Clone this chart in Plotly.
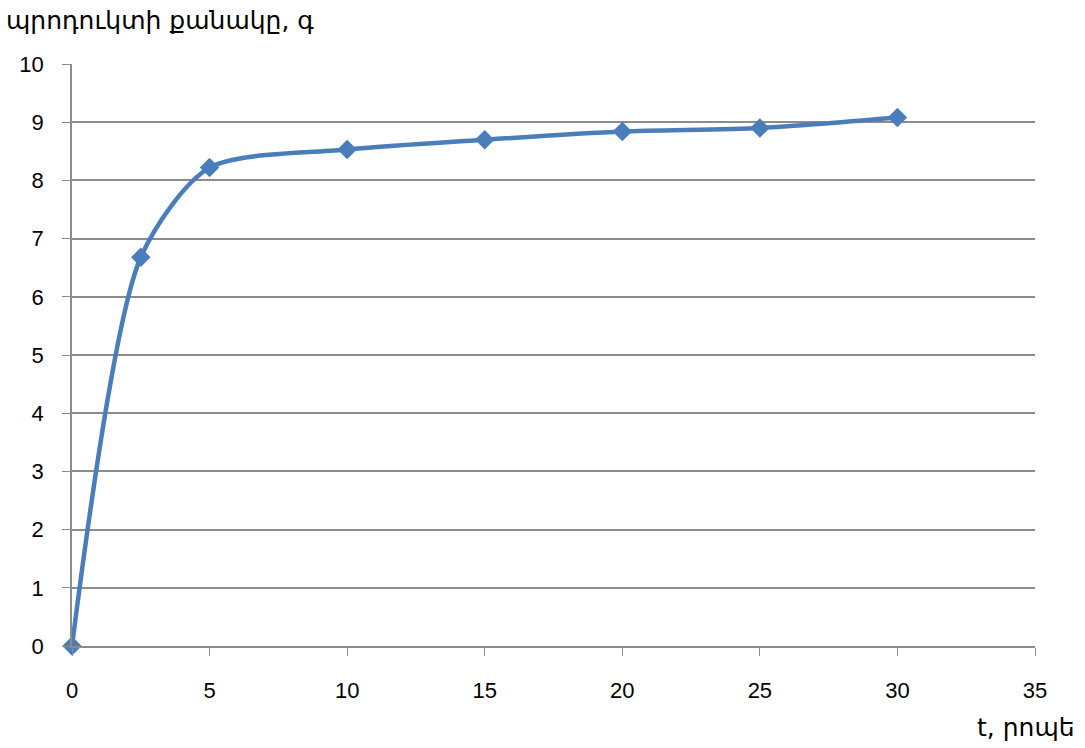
import plotly.graph_objects as go

# time, minutes
t_min = [0, 2.5, 5, 10, 15, 20, 25, 30]
# product amount, grams
product_g = [0, 6.68, 8.22, 8.53, 8.70, 8.84, 8.90, 9.08]

x_ticks = [0, 5, 10, 15, 20, 25, 30, 35]
y_ticks = list(range(0, 11))

line_color = "#4a7ebb"
grid_color = "#8c8c8c"
label_font = "DejaVu Sans, Liberation Sans, sans-serif"
tick_font = "Liberation Sans, Arial, sans-serif"

fig = go.Figure()
fig.add_trace(go.Scatter(
    x=t_min,
    y=product_g,
    mode="lines+markers",
    line=dict(color=line_color, width=4.5, shape="spline", smoothing=0.75),
    marker=dict(symbol="diamond", size=15, color=line_color),
    cliponaxis=False,
    showlegend=False,
))

fig.update_layout(
    width=1085,
    height=748,
    margin=dict(l=72, r=50, t=64, b=102),
    paper_bgcolor="white",
    plot_bgcolor="white",
    xaxis=dict(
        range=[0, 35],
        tickvals=x_ticks,
        ticks="outside",
        ticklen=8,
        tickcolor=grid_color,
        showgrid=False,
        showline=True,
        linecolor=grid_color,
        linewidth=1.5,
        zeroline=False,
        tickfont=dict(family=tick_font, size=22, color="#000"),
        ticklabelstandoff=16,
        fixedrange=True,
    ),
    yaxis=dict(
        range=[0, 10],
        tickvals=y_ticks,
        ticks="outside",
        ticklen=8,
        tickcolor=grid_color,
        showgrid=True,
        gridcolor=grid_color,
        gridwidth=1.5,
        showline=True,
        linecolor=grid_color,
        linewidth=1.5,
        zeroline=False,
        tickfont=dict(family=tick_font, size=22, color="#000"),
        ticklabelstandoff=14,
        fixedrange=True,
    ),
    annotations=[
        dict(
            text="պրոդուկտի քանակը, գ",
            xref="paper", yref="paper",
            x=-68 / 963, y=1 + 44 / 582,
            xanchor="left", yanchor="middle",
            showarrow=False,
            font=dict(family=label_font, size=25, color="#000"),
        ),
        dict(
            text="t, րոպե",
            xref="paper", yref="paper",
            x=1 + 42 / 963, y=-81 / 582,
            xanchor="right", yanchor="middle",
            showarrow=False,
            font=dict(family=label_font, size=25, color="#000"),
        ),
    ],
)

fig.write_html("out.html")
